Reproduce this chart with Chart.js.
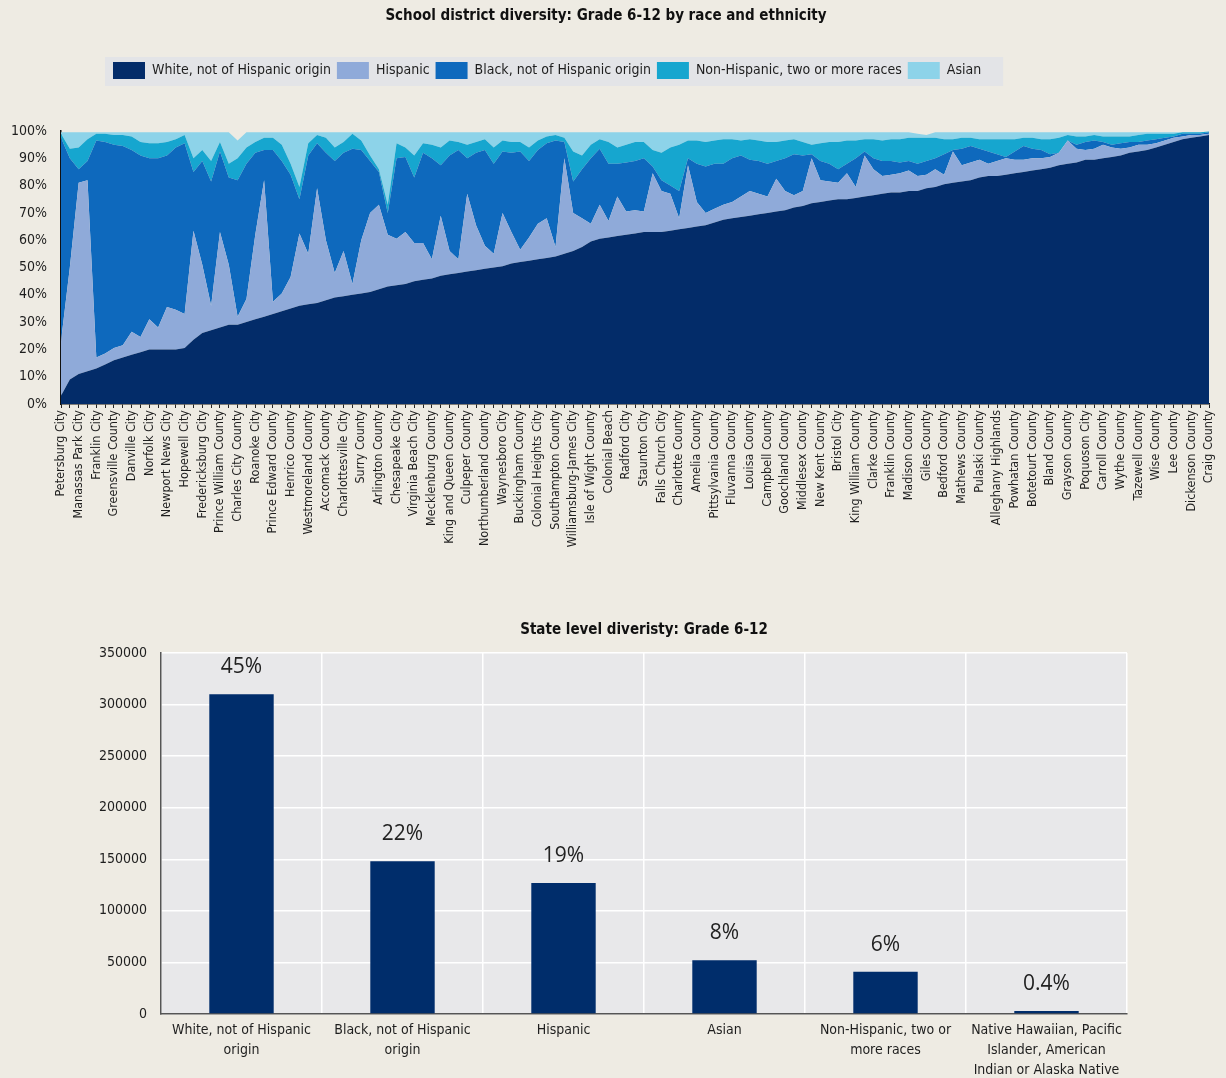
<!DOCTYPE html>
<html>
<head>
<meta charset="utf-8">
<title>Grade 6-12 diversity</title>
<script src="https://cdn.jsdelivr.net/npm/chart.js@4.4.1/dist/chart.umd.min.js"></script>
<style>
  html, body { margin: 0; padding: 0; background: #eeebe3; }
  #page { position: relative; width: 1226px; height: 1078px; overflow: hidden; }
  #districtChart { position: absolute; left: 0; top: 0; }
  #stateChart { position: absolute; left: 0; top: 590px; }
</style>
</head>
<body>
<div id="page">
  <canvas id="districtChart" width="1226" height="590"></canvas>
  <canvas id="stateChart" width="1226" height="488"></canvas>
</div>
<script>
// Every other division gets a printed label on the axis
const districts = [
    "Petersburg City", "Manassas Park City", "Franklin City", "Greensville County", "Danville City",
    "Norfolk City", "Newport News City", "Hopewell City", "Fredericksburg City", "Prince William County",
    "Charles City County", "Roanoke City", "Prince Edward County", "Henrico County", "Westmoreland County",
    "Accomack County", "Charlottesville City", "Surry County", "Arlington County", "Chesapeake City",
    "Virginia Beach City", "Mecklenburg County", "King and Queen County", "Culpeper County", "Northumberland County",
    "Waynesboro City", "Buckingham County", "Colonial Heights City", "Southampton County", "Williamsburg-James City",
    "Isle of Wight County", "Colonial Beach", "Radford City", "Staunton City", "Falls Church City",
    "Charlotte County", "Amelia County", "Pittsylvania County", "Fluvanna County", "Louisa County",
    "Campbell County", "Goochland County", "Middlesex County", "New Kent County", "Bristol City",
    "King William County", "Clarke County", "Franklin County", "Madison County", "Giles County",
    "Bedford County", "Mathews County", "Pulaski County", "Alleghany Highlands", "Powhatan County",
    "Botetourt County", "Bland County", "Grayson County", "Poquoson City", "Carroll County",
    "Wythe County", "Tazewell County", "Wise County", "Lee County", "Dickenson County", "Craig County"
];

// Share of grade 6-12 enrolment (%) per division, sorted by white share
const whiteShare = [
    3, 9, 11, 12, 13, 14.5, 16, 17, 18, 19,
    20, 20, 20, 20, 20.5, 23.5, 26, 27, 28, 29,
    29, 30, 31, 32, 33, 34, 35, 36, 36.5, 37,
    38, 39, 39.5, 40, 40.5, 41, 42, 43, 43.5, 44,
    45, 45.5, 46, 47, 47.5, 48, 48.5, 49, 49.5, 50,
    50.5, 51.5, 52, 52.5, 53, 53.5, 54, 55, 56, 57.5,
    59.5, 60.5, 61, 61.5, 62, 62.5, 63, 63, 63, 63.5,
    64, 64.5, 65, 65.5, 66.5, 67.5, 68, 68.5, 69, 69.5,
    70, 70.5, 71, 72, 72.5, 73.5, 74, 74.5, 75, 75,
    75.5, 76, 76.5, 77, 77.5, 77.5, 78, 78, 79, 79.5,
    80.5, 81, 81.5, 82, 83, 83.5, 83.5, 84, 84.5, 85,
    85.5, 86, 86.5, 87.5, 88, 88.5, 89.5, 89.5, 90, 90.5,
    91, 92, 92.5, 93, 94, 95, 96, 97, 97.5, 98,
    98.5
];
const hispanicShare = [
    20, 41, 70, 70, 4, 4, 4.5, 4.5, 8.5, 5.5,
    11, 8, 15.5, 14.5, 12.5, 40, 25, 9, 35, 22,
    3, 8.5, 31, 50, 4.5, 6.5, 11.5, 26.5, 18.5, 42,
    22, 9, 16.5, 4, 19.5, 29, 31, 19, 17, 19,
    14, 13.5, 7, 22, 8.5, 5, 28.5, 16.5, 8.5, 5,
    19.5, 11.5, 4.5, 8.5, 13, 14.5, 3.5, 35, 14, 10.5,
    6.5, 12.5, 6, 14.5, 8.5, 8.5, 7.5, 21.5, 15, 13.5,
    4, 23, 9, 4.5, 5, 5.5, 6, 7.5, 9, 7.5,
    6, 12, 7, 4.5, 5.5, 16.5, 8, 7, 6, 9.5,
    4, 15, 9.5, 6.5, 6.5, 7, 7.5, 5.5, 5, 6.5,
    3.5, 11.5, 6, 6.5, 6.5, 4.5, 5.5, 6, 5, 4.5,
    4.5, 4, 4, 4.5, 8.5, 5, 3.5, 4, 5, 3.5,
    2.5, 2, 2.5, 2, 1.5, 1.5, 1.5, 1, 1, 0.5,
    0.5
];
const blackShare = [
    74.5, 40, 5, 7, 79.5, 77.5, 74.5, 73, 66.5, 66.5,
    59, 62, 55.5, 59.5, 62.5, 21.5, 38, 45.5, 29.5, 32,
    50, 49.5, 30, 11, 55.5, 48.5, 37.5, 12.5, 36, 16.5,
    32, 41, 36, 49.5, 33, 19, 12, 8, 29.5, 27.5,
    24, 33, 37, 18.5, 35, 40, 13, 26.5, 35, 33,
    22.5, 29, 36, 28, 27, 27.5, 39, 6, 11.5, 18,
    24, 20.5, 21, 12, 18, 18, 19.5, 2.5, 4, 3,
    10, 2.5, 14, 17, 16.5, 15, 16, 15, 11.5, 12,
    12, 6.5, 12, 15, 13, 1.5, 7, 6.5, 5, 3.5,
    10.5, 1.5, 4, 5.5, 5, 4, 3.5, 4.5, 5, 4,
    7.5, 0.5, 6, 6, 4, 4.5, 2.5, 0.5, 3, 5,
    3.5, 3, 1, 0, 0, 1.5, 3, 3, 1, 1,
    2, 2, 1, 1.5, 1.5, 1, 0.5, 1, 0.5, 0.5,
    0.5
];
const multiShare = [
    1.5, 3.5, 8, 8, 2.5, 3, 3.5, 4, 5, 5,
    5.5, 5.5, 5, 3, 3, 5, 4, 7.5, 3.5, 5,
    8, 6, 4, 4.5, 4.5, 6, 4, 4.5, 4.5, 3,
    5.5, 5, 4, 5.5, 3.5, 2, 1, 3, 5.5, 3.5,
    8, 3.5, 5, 6.5, 5.5, 3, 5, 4, 4, 6,
    4, 4, 3.5, 5, 3.5, 2.5, 2, 1.5, 11, 5,
    5, 3.5, 8, 6, 6.5, 7, 6, 6, 10, 14,
    17, 6.5, 8.5, 9, 8.5, 9, 7, 5.5, 7.5, 7.5,
    8, 7, 6.5, 5.5, 5, 3.5, 6.5, 8, 10, 8.5,
    6.5, 4.5, 7, 7.5, 8, 8.5, 8.5, 9.5, 8.5, 7.5,
    5.5, 4, 4, 3, 3.5, 4.5, 5.5, 6.5, 4.5, 3,
    4, 4, 5.5, 5.5, 2, 3, 2, 2, 2, 3,
    2.5, 2, 2.5, 2.5, 2, 1.5, 1, 0.5, 0.5, 0.5,
    0.3
];
const asianShare = [
    0.5, 6, 5.5, 2.5, 0.5, 0.5, 1, 1, 1.5, 3.5,
    4, 4, 3.5, 2.5, 1, 9.5, 6.5, 10.5, 3.5, 11.5,
    6.5, 5.5, 3.5, 2, 2, 4.5, 11.5, 20, 4, 1,
    2, 5.5, 3.5, 0.5, 3, 8.5, 13.5, 26.5, 4, 5.5,
    8.5, 4, 4.5, 5.5, 3, 3.5, 4.5, 3.5, 2.5, 5.5,
    3, 3.5, 3.5, 5.5, 3, 1.5, 1, 2, 7, 8.5,
    4.5, 2.5, 3.5, 5.5, 4.5, 3.5, 3.5, 6.5, 7.5, 5.5,
    4.5, 3, 3, 3.5, 3, 2.5, 2.5, 3, 2.5, 3,
    3.5, 3.5, 3, 2.5, 3.5, 4.5, 4, 3.5, 3.5, 3,
    3, 2.5, 2.5, 3, 2.5, 2.5, 2, 1.5, 1, 2,
    2.5, 2.5, 2, 2, 2.5, 2.5, 2.5, 2.5, 2.5, 2,
    2, 2.5, 2.5, 2, 1, 1.5, 1.5, 1, 1.5, 1.5,
    1.5, 1.5, 1, 0.5, 0.5, 0.5, 0.5, 0, 0, 0,
    0
];
const percentTicks = [0, 10, 20, 30, 40, 50, 60, 70, 80, 90, 100];

// State totals
const stateGroups = [
    ["White, not of Hispanic", "origin"],
    ["Black, not of Hispanic", "origin"],
    "Hispanic",
    "Asian",
    ["Non-Hispanic, two or", "more races"],
    ["Native Hawaiian, Pacific", "Islander, American", "Indian or Alaska Native"]
];
const stateCounts = [310000, 148000, 127000, 52000, 41000, 3000];
const stateShares = ["45%", "22%", "19%", "8%", "6%", "0.4%"];

const NARROW = '"Liberation Sans Narrow", "Arial Narrow", "DejaVu Sans Condensed", "Liberation Sans", sans-serif';
const INK = "#1e1e1e";

const series = [
    { label: "White, not of Hispanic origin", data: whiteShare, color: "#032c69" },
    { label: "Hispanic", data: hispanicShare, color: "#8faad9" },
    { label: "Black, not of Hispanic origin", data: blackShare, color: "#0e69bd" },
    { label: "Non-Hispanic, two or more races", data: multiShare, color: "#16a6cf" },
    { label: "Asian", data: asianShare, color: "#8dd3e9" }
];

const axisLabels = whiteShare.map((_, i) => (i % 2 === 0 ? districts[i / 2] : ""));

// Moves the legend row to its spot and lays a grey band behind it
const legendBand = {
    id: "legendBand",
    afterLayout(chart) {
        const lg = chart.legend;
        const pad = lg.options.labels.padding;
        const start = (lg.left + pad + lg.right - lg.lineWidths[0]) / 2;
        const shift = 113 - start;
        lg.left += shift;
        lg.right += shift;
    },
    beforeDraw(chart) {
        const lg = chart.legend;
        const pad = lg.options.labels.padding;
        const start = (lg.left + pad + lg.right - lg.lineWidths[0]) / 2;
        const ctx = chart.ctx;
        ctx.save();
        ctx.fillStyle = "#e3e4e7";
        ctx.fillRect(start - 8, 57, lg.lineWidths[0] + 24, 29);
        ctx.restore();
    }
};

new Chart(document.getElementById("districtChart"), {
    type: "line",
    data: {
        labels: axisLabels,
        datasets: series.map((s, i) => ({
            label: s.label,
            data: s.data,
            backgroundColor: s.color,
            borderColor: s.color,
            borderWidth: 0,
            pointRadius: 0,
            tension: 0,
            fill: i === 0 ? "origin" : "-1"
        }))
    },
    options: {
        responsive: false,
        animation: false,
        layout: { padding: { left: 0, right: 14, top: 0, bottom: 0 } },
        scales: {
            x: {
                grid: { display: true, drawOnChartArea: false, tickLength: 4, tickColor: "#222" },
                border: { color: "#111", width: 1.5 },
                ticks: {
                    autoSkip: false,
                    minRotation: 90,
                    maxRotation: 90,
                    padding: 2,
                    color: INK,
                    font: { family: NARROW, size: 12.5 }
                },
                afterFit: (scale) => { scale.height = 186; }
            },
            y: {
                stacked: true,
                min: 0,
                max: 100,
                grid: { display: false, drawTicks: false },
                border: { color: "#111", width: 1.5 },
                afterBuildTicks: (scale) => { scale.ticks = percentTicks.map((v) => ({ value: v })); },
                ticks: {
                    padding: 14,
                    color: INK,
                    font: { family: NARROW, size: 14 },
                    callback: (v) => v + "%"
                },
                afterFit: (scale) => { scale.width = 61; }
            }
        },
        plugins: {
            title: {
                display: true,
                text: "School district diversity: Grade 6-12 by race and ethnicity",
                color: "#111",
                font: { family: NARROW, size: 15, weight: "bold" },
                padding: { top: 7, bottom: 31 }
            },
            legend: {
                display: true,
                position: "top",
                weight: 1000,
                labels: {
                    boxWidth: 32,
                    boxHeight: 17,
                    padding: 6,
                    color: INK,
                    font: { family: NARROW, size: 14 }
                }
            },
            // empty block that keeps a gap between legend and plot
            subtitle: {
                display: true,
                text: "",
                weight: 500,
                font: { size: 10 },
                padding: { top: 0, bottom: 30 }
            },
            tooltip: { enabled: false }
        }
    },
    plugins: [legendBand]
});

// Grey plot panel behind the bars
const plotPanel = {
    id: "plotPanel",
    beforeDraw(chart) {
        const { ctx, chartArea: a } = chart;
        ctx.save();
        ctx.fillStyle = "#e8e8ea";
        ctx.fillRect(a.left, a.top, a.right - a.left, a.bottom - a.top);
        ctx.restore();
    }
};

// Percent share written above each bar
const shareLabels = {
    id: "shareLabels",
    afterDatasetsDraw(chart) {
        const ctx = chart.ctx;
        const bars = chart.getDatasetMeta(0).data;
        ctx.save();
        ctx.font = '21px "Open Sans", "Noto Sans", sans-serif';
        ctx.fillStyle = "#222";
        ctx.textAlign = "center";
        ctx.textBaseline = "middle";
        bars.forEach((bar, i) => ctx.fillText(stateShares[i], bar.x, bar.y - 27));
        ctx.restore();
    }
};

new Chart(document.getElementById("stateChart"), {
    type: "bar",
    data: {
        labels: stateGroups,
        datasets: [{
            data: stateCounts,
            backgroundColor: "#002d6b",
            categoryPercentage: 1,
            barPercentage: 0.4
        }]
    },
    options: {
        responsive: false,
        animation: false,
        layout: { padding: { left: 0, right: 99, top: 0, bottom: 0 } },
        scales: {
            x: {
                grid: { color: "#ffffff", lineWidth: 1.5, drawTicks: false, offset: true },
                border: { color: "#555", width: 1.5 },
                ticks: {
                    autoSkip: false,
                    maxRotation: 0,
                    padding: 6,
                    color: INK,
                    font: { family: NARROW, size: 14, lineHeight: 1.45 }
                },
                afterFit: (scale) => { scale.height = 64; }
            },
            y: {
                min: 0,
                max: 350000,
                grid: { color: "#ffffff", lineWidth: 1.5, drawTicks: false },
                border: { color: "#555", width: 1.5 },
                ticks: {
                    stepSize: 50000,
                    padding: 14,
                    color: INK,
                    font: { family: NARROW, size: 14 },
                    callback: (v) => String(v)
                },
                afterFit: (scale) => { scale.width = 161; }
            }
        },
        plugins: {
            legend: { display: false },
            title: {
                display: true,
                fullSize: false,
                text: "State level diveristy: Grade 6-12",
                color: "#111",
                font: { family: NARROW, size: 15, weight: "bold" },
                padding: { top: 31, bottom: 14 }
            },
            tooltip: { enabled: false }
        }
    },
    plugins: [plotPanel, shareLabels]
});
</script>
</body>
</html>
